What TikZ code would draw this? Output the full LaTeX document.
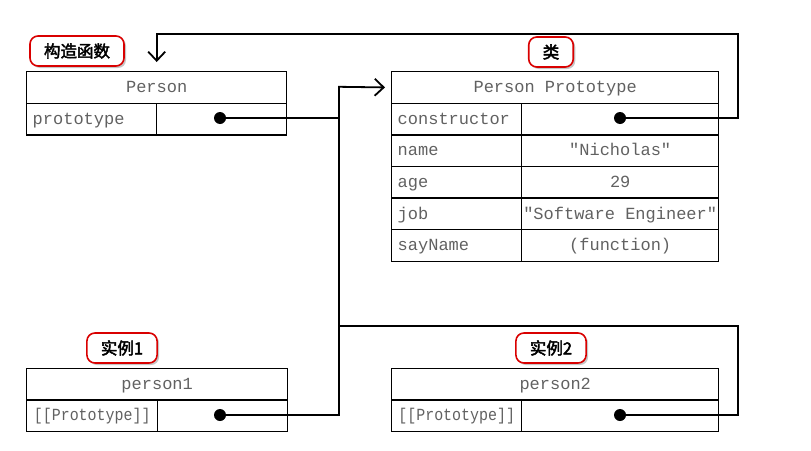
\documentclass[tikz,border=0pt]{standalone}
\usepackage{fontspec}
\setmonofont{Liberation Mono}
\newfontfamily\cjk[AutoFakeBold=2.5]{Noto Sans CJK SC}
\usetikzlibrary{arrows.meta,shadows,calc,positioning}
\tikzset{
    cell/.style = {draw, rectangle, line width=1.4pt, inner sep=0pt,
        anchor=north west, minimum height=31.6pt,
        text height=12.5pt, text depth=2pt,
        font=\ttfamily\fontsize{17}{17}\selectfont, text=black!62},
    keycell/.style = {cell, minimum width=130pt, text width=118pt,
        inner xsep=6pt, align=left},
    slotcell/.style = {cell, font=\ttfamily\addfontfeature{FakeStretch=0.88}\fontsize{17}{17}\selectfont},
    dot/.style = {circle, fill=black, inner sep=0pt, minimum size=12pt},
    link/.style = {draw, line width=1.8pt},
    tag/.style = {draw=red!85!black, fill=white, line width=1.6pt,
        rounded corners=8pt, minimum height=30pt, inner xsep=14pt,
        drop shadow={shadow xshift=2pt, shadow yshift=-2pt, opacity=0.45},
        font=\cjk\bfseries\fontsize{16.5}{16.5}\selectfont}
}

\begin{document}
\begin{tikzpicture}[x=1pt, y=-1pt, >={Straight Barb[length=9pt, width=17pt, line width=1.8pt]}]
    \useasboundingbox (0,0) rectangle (811,450);
    % Person
    \node [cell, minimum width=260pt, name=personhead] at (26,71) {Person};
    \node [keycell, name=personkey] at (26,102.6) {prototype};
    \node [cell, minimum width=130pt, name=personval] at (156,102.6) {};
    \node [dot, name=pdot] at (220,118) {};
    % Person Prototype
    \node [cell, minimum width=327pt, name=protohead] at (391,71) {Person Prototype};
    \foreach \k/\v [count=\i] in {constructor/{}, name/"Nicholas", age/29,
            job/"Software Engineer", sayName/(function)}{
        \node [keycell, name=protokey\i] at (391,71+31.6*\i) {\k};
        \node [cell, minimum width=197pt, name=protoval\i] at (521,71+31.6*\i) {\v};
        }
    \node [dot, name=cdot] at (620,118) {};
    % instances
    \node [cell, minimum width=261pt, name=p1head] at (26,367.5) {person1};
    \node [slotcell, minimum width=131pt, name=p1key] at (26,399.1) {[[Prototype]]};
    \node [cell, minimum width=130pt, name=p1val] at (157,399.1) {};
    \node [dot, name=p1dot] at (220,415) {};
    \node [cell, minimum width=327pt, name=p2head] at (391,367.5) {person2};
    \node [slotcell, minimum width=130pt, name=p2key] at (391,399.1) {[[Prototype]]};
    \node [cell, minimum width=197pt, name=p2val] at (521,399.1) {};
    \node [dot, name=p2dot] at (620,415) {};
    % labels
    \node [tag, name=ctortag] at (77,51) {构造函数};
    \node [tag, name=classtag] at (551,52) {类};
    \node [tag, name=inst1tag] at (122,348) {实例1};
    \node [tag, name=inst2tag] at (551,348) {实例2};
    % links
    \coordinate (trunk) at (339,86.8);
    \coordinate (loopc) at (738,34);
    \coordinate (loop2) at (738,326);
    \draw [link,->,shorten >=6pt] (p1dot) -| (trunk) -- (protohead.west);
    \draw [link] (pdot) -- (pdot -| trunk);
    \draw [link] (p2dot) -| (loop2) -- (loop2 -| trunk);
    \draw [link,->,shorten >=9pt] (cdot) -| (loopc) -| (personhead.north);
\end{tikzpicture}
\end{document}
